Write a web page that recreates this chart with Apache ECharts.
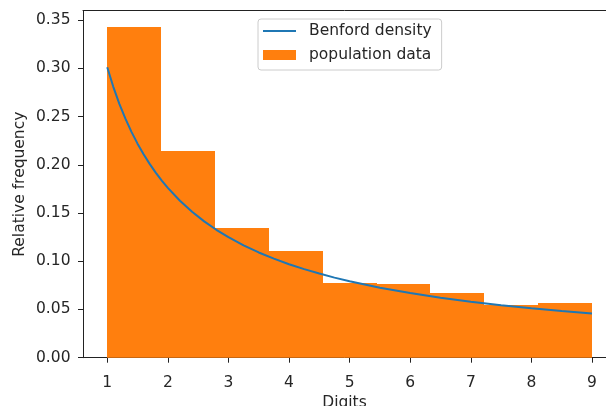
<!DOCTYPE html>
<html>
<head>
<meta charset="utf-8">
<script src="https://cdn.jsdelivr.net/npm/echarts@6/dist/echarts.min.js"></script>
<style>
html,body{margin:0;padding:0;background:#fff;}
#chart{width:606px;height:406px;}
</style>
</head>
<body>
<div id="chart"></div>
<script>
// Histogram bin edges (digits axis) and relative frequencies
var binEdges = [1, 1.889, 2.778, 3.667, 4.556, 5.444, 6.333, 7.222, 8.111, 9];
var binHeights = [0.343, 0.214, 0.134, 0.111, 0.077, 0.076, 0.067, 0.055, 0.057];

// Benford density curve points
var curveX = [1, 1.1, 1.2, 1.3, 1.4, 1.5, 1.6, 1.7, 1.8, 1.9, 2, 2.2, 2.4, 2.6, 2.8, 3, 3.25, 3.5, 3.75, 4, 4.25, 4.5, 4.75, 5, 5.5, 6, 6.5, 7, 7.5, 8, 8.5, 9];
var curveY = [0.3010, 0.2808, 0.2632, 0.2478, 0.2341, 0.2219, 0.2109, 0.2009, 0.1919, 0.1836, 0.1761, 0.1627, 0.1513, 0.1413, 0.1326, 0.1249, 0.1165, 0.1091, 0.1027, 0.0969, 0.0918, 0.0872, 0.0830, 0.0792, 0.0726, 0.0670, 0.0622, 0.0580, 0.0544, 0.0512, 0.0483, 0.0458];

// Tick labels
var xTicks = [1, 2, 3, 4, 5, 6, 7, 8, 9];
var yTicks = [0, 0.05, 0.10, 0.15, 0.20, 0.25, 0.30, 0.35];

var barData = binHeights.map(function (h, i) { return [binEdges[i], binEdges[i + 1], h]; });
var lineData = curveX.map(function (x, i) { return [x, curveY[i]]; });

var FONT = 'DejaVu Sans';
var FS = 15.5;
var TXT = '#262626';
var AX = '#222222';

var chart = echarts.init(document.getElementById('chart'), null, {renderer: 'canvas'});
chart.setOption({
  animation: false,
  backgroundColor: '#ffffff',
  textStyle: {fontFamily: FONT},
  grid: {left: 83, right: 0, top: 10.7, bottom: 48.3, containLabel: false, outerBoundsMode: 'none'},
  xAxis: [{
    type: 'value',
    min: 0.6,
    max: 9.231,
    name: 'Digits',
    nameLocation: 'middle',
    nameGap: 37,
    nameMoveOverlap: false,
    nameTextStyle: {fontFamily: FONT, fontSize: FS, color: TXT},
    axisLine: {show: true, onZero: false, lineStyle: {color: AX, width: 1}},
    axisTick: {show: true, length: 5, inside: false, customValues: xTicks, lineStyle: {color: AX, width: 1}},
    axisLabel: {show: true, margin: 17, customValues: xTicks, fontFamily: FONT, fontSize: FS, color: TXT,
      formatter: function (v) { return String(Math.round(v)); }},
    splitLine: {show: false}
  }, {
    type: 'value',
    position: 'top',
    min: 0.6,
    max: 9.231,
    axisLine: {show: true, onZero: false, lineStyle: {color: AX, width: 1}},
    axisTick: {show: false},
    axisLabel: {show: false},
    splitLine: {show: false}
  }],
  yAxis: {
    type: 'value',
    min: 0,
    max: 0.3597,
    name: 'Relative frequency',
    nameLocation: 'middle',
    nameGap: 55.5,
    nameMoveOverlap: false,
    nameTextStyle: {fontFamily: FONT, fontSize: FS, color: TXT},
    axisLine: {show: true, lineStyle: {color: AX, width: 1}},
    axisTick: {show: true, length: 5, inside: false, customValues: yTicks, lineStyle: {color: AX, width: 1}},
    axisLabel: {show: true, margin: 12.5, customValues: yTicks, fontFamily: FONT, fontSize: FS, color: TXT,
      formatter: function (v) { return v.toFixed(2); }},
    splitLine: {show: false}
  },
  legend: {
    orient: 'vertical',
    left: 258,
    top: 19,
    padding: [3, 10, 6, 4],
    itemGap: 6,
    itemWidth: 33,
    itemHeight: 10,
    backgroundColor: 'rgba(255,255,255,0.8)',
    borderColor: '#cccccc',
    borderWidth: 1,
    borderRadius: 3,
    textStyle: {fontFamily: FONT, fontSize: FS, color: TXT, lineHeight: 18, padding: [0, 0, 0, 8]},
    data: [
      {name: 'Benford density', itemStyle: {opacity: 0}},
      {name: 'population data', icon: 'rect'}
    ]
  },
  series: [{
    name: 'population data',
    type: 'custom',
    xAxisIndex: 0,
    itemStyle: {color: '#ff7f0e'},
    renderItem: function (params, api) {
      var p0 = api.coord([api.value(0), api.value(2)]);
      var p1 = api.coord([api.value(1), 0]);
      var x0 = Math.round(p0[0]);
      var x1 = Math.round(p1[0]);
      var y0 = Math.round(p0[1]);
      return {
        type: 'rect',
        shape: {x: x0, y: y0, width: x1 - x0, height: p1[1] - y0},
        style: {fill: '#ff7f0e'}
      };
    },
    encode: {x: [0, 1], y: 2},
    data: barData,
    z: 1
  }, {
    name: 'Benford density',
    type: 'line',
    xAxisIndex: 0,
    data: lineData,
    symbol: 'none',
    showSymbol: false,
    smooth: false,
    lineStyle: {color: '#1f77b4', width: 2},
    itemStyle: {color: '#1f77b4'},
    z: 3
  }]
});
</script>
</body>
</html>
